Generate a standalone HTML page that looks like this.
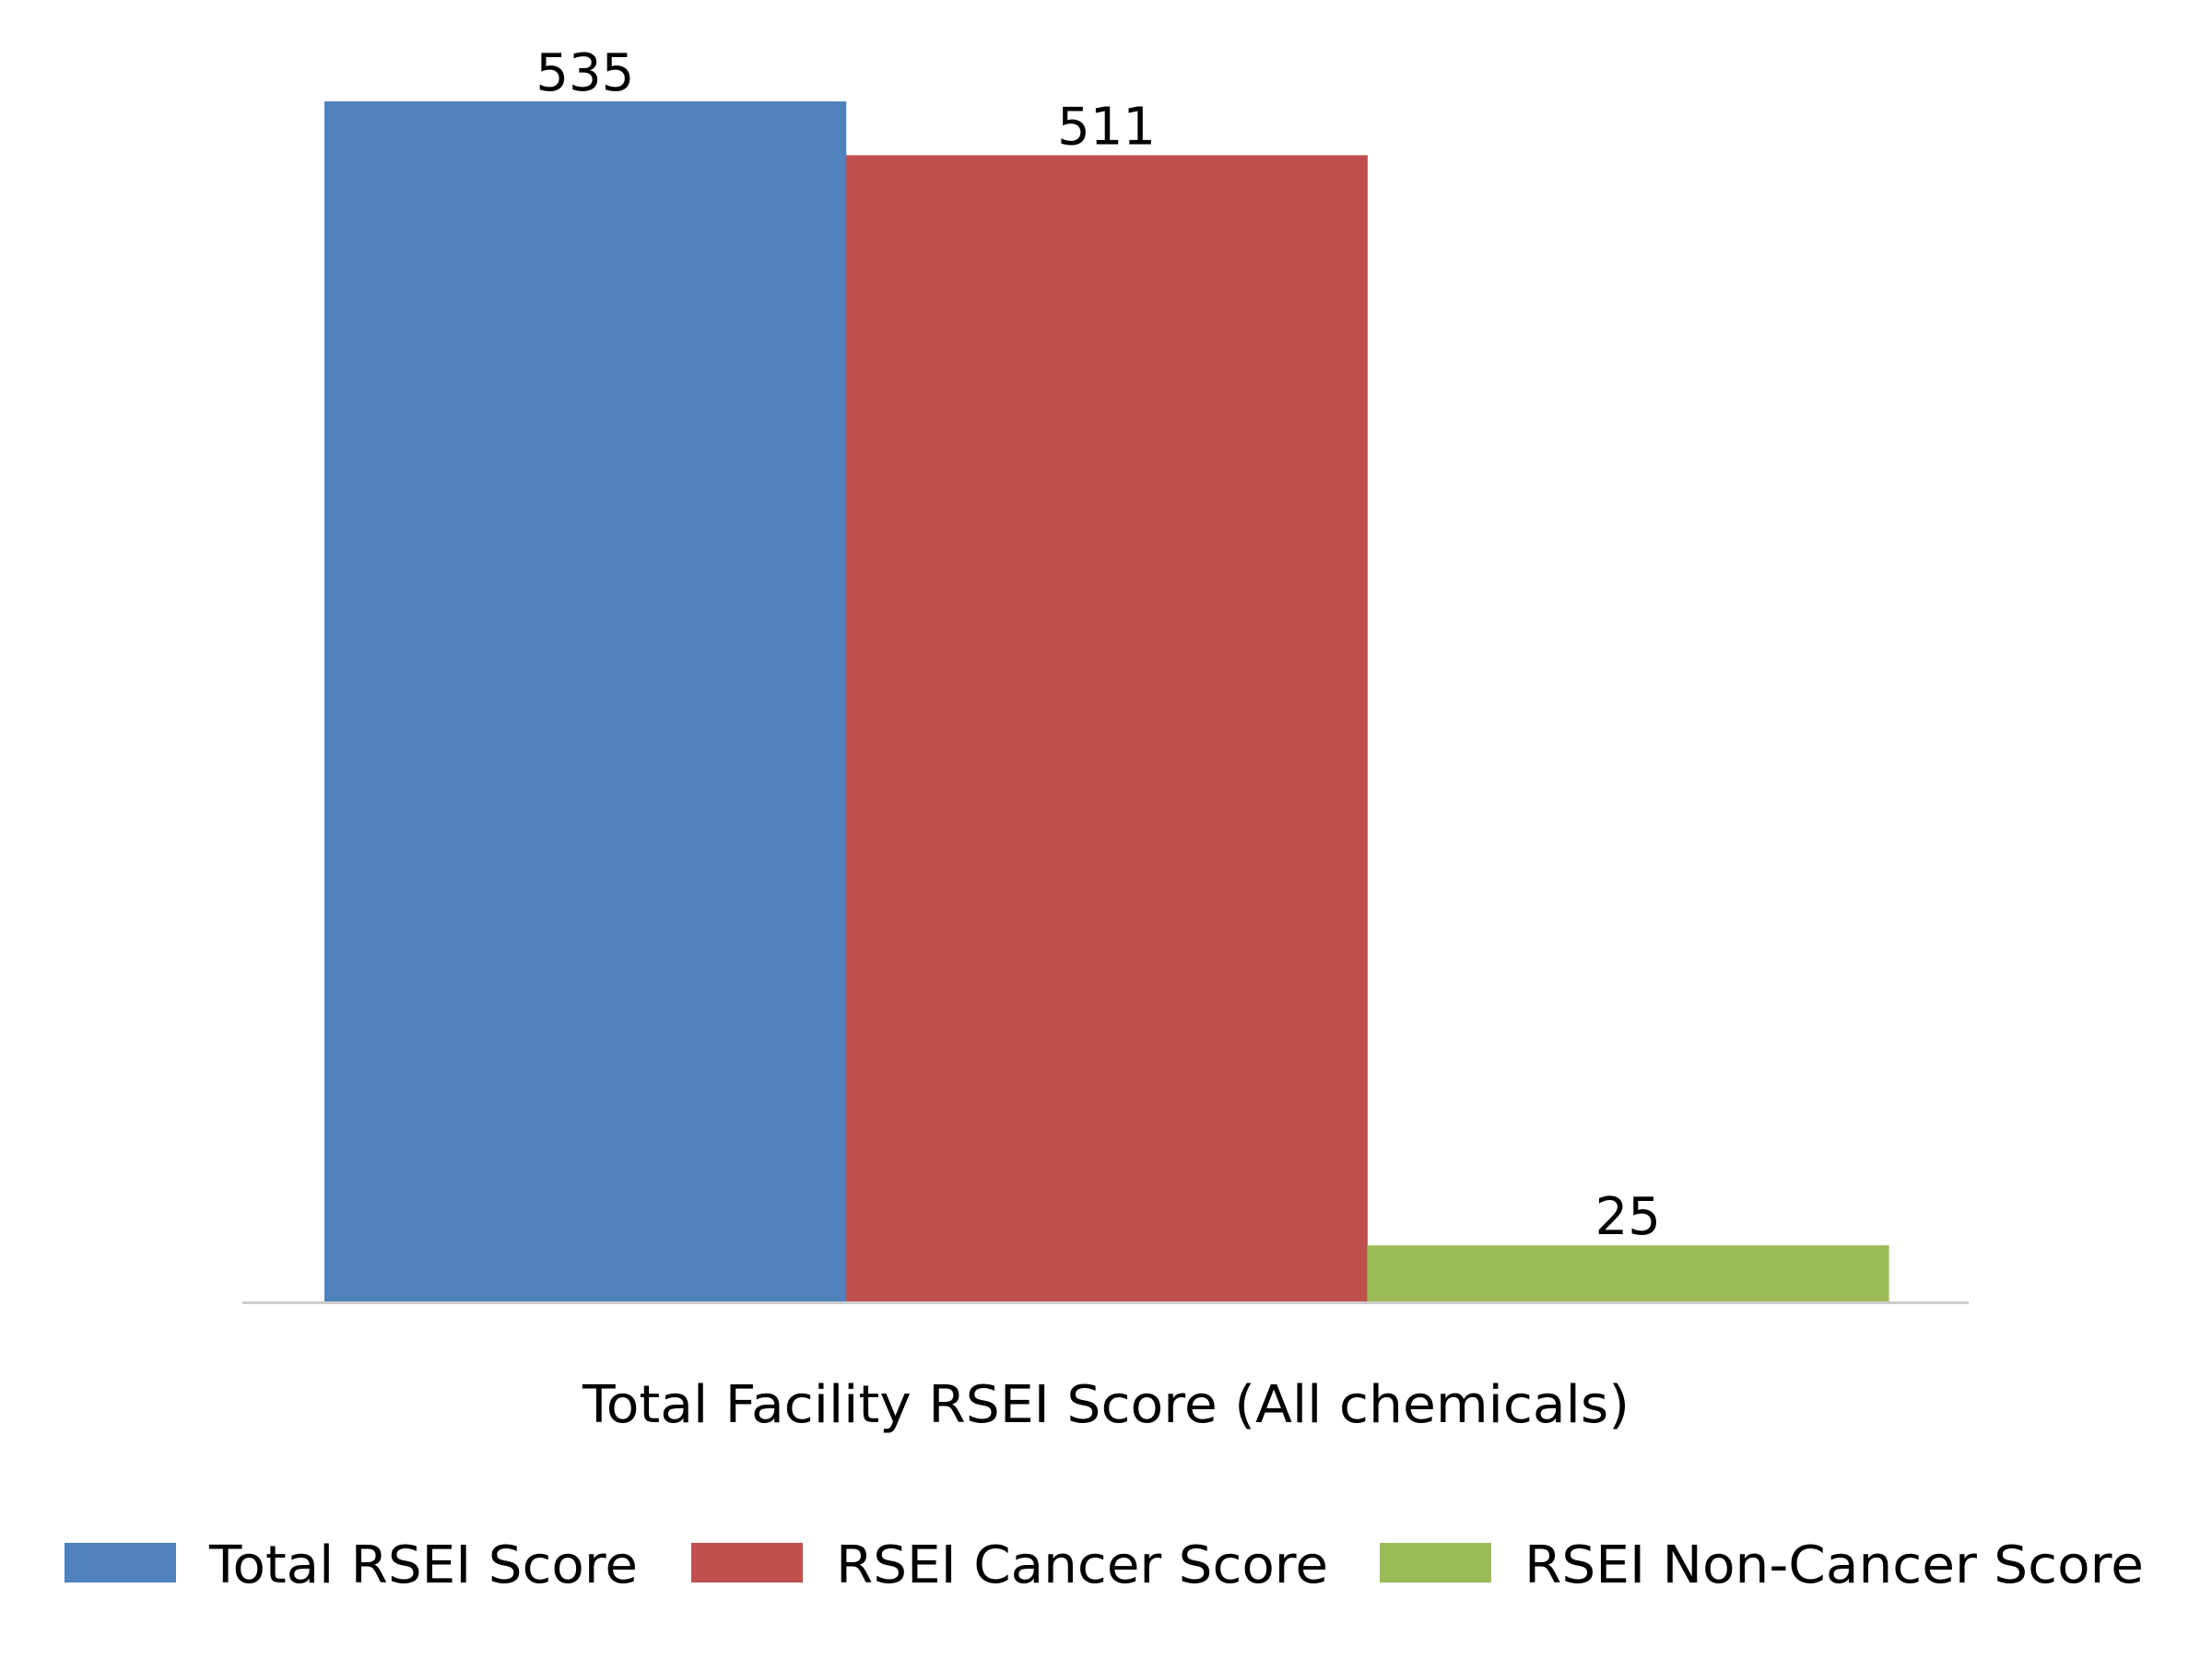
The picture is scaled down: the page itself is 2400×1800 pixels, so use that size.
<!DOCTYPE html>
<html><head><meta charset="utf-8"><style>
html,body{margin:0;padding:0;background:#fff;}
svg{display:block;font-family:"DejaVu Sans","Liberation Sans",sans-serif;}
</style></head><body>
<svg id="chart" width="2400" height="1800" viewBox="0 0 2400 1800">
<line x1="263" y1="1413.5" x2="2136" y2="1413.5" stroke="#cccccc" stroke-width="3"/>
<g id="bars"></g>
<text x="1200" y="1543" font-size="56" text-anchor="middle" textLength="1136" lengthAdjust="spacingAndGlyphs">Total Facility RSEI Score (All chemicals)</text>
<g id="legend"></g>
</svg>
<script>
const seriesNames = ["Total RSEI Score", "RSEI Cancer Score", "RSEI Non-Cancer Score"];
const seriesValues = [535, 511, 25];
const seriesLabels = ["535", "511", "25"];
const colors = ["#4f81bd", "#c0504d", "#9bbb59"];

const NS = "http://www.w3.org/2000/svg";
const baseY = 1412, plotTop = 110, x0 = 352, barW = 565.7;
const maxV = Math.max(...seriesValues);
function yScale(v){ return baseY - v/maxV*(baseY-plotTop); }
function xScale(i){ return x0 + i*barW; }

const bars = document.getElementById('bars');
seriesValues.forEach((v,i)=>{
  const r = document.createElementNS(NS,'rect');
  r.setAttribute('x', xScale(i));
  r.setAttribute('y', yScale(v));
  r.setAttribute('width', barW+0.5);
  r.setAttribute('height', baseY - yScale(v));
  r.setAttribute('fill', colors[i]);
  
  
  bars.appendChild(r);
  const t = document.createElementNS(NS,'text');
  t.setAttribute('x', xScale(i)+barW/2);
  t.setAttribute('y', yScale(v)-12);
  t.setAttribute('font-size', '56');
  t.setAttribute('text-anchor', 'middle');
  t.textContent = seriesLabels[i];
  
  
  bars.appendChild(t);
});

const legend = document.getElementById('legend');
const swX = [70, 750, 1497];
const txW = [465, 534, 672];
seriesNames.forEach((n,i)=>{
  const r = document.createElementNS(NS,'rect');
  r.setAttribute('x', swX[i]); r.setAttribute('y', 1674);
  r.setAttribute('width', 121); r.setAttribute('height', 43);
  r.setAttribute('fill', colors[i]);
  
  
  legend.appendChild(r);
  const t = document.createElementNS(NS,'text');
  t.setAttribute('x', swX[i]+157); t.setAttribute('y', 1717);
  t.setAttribute('font-size', '56');
  t.setAttribute('textLength', txW[i]);
  t.setAttribute('lengthAdjust', 'spacingAndGlyphs');
  t.textContent = n;
  
  
  legend.appendChild(t);
});
</script>
</body></html>
